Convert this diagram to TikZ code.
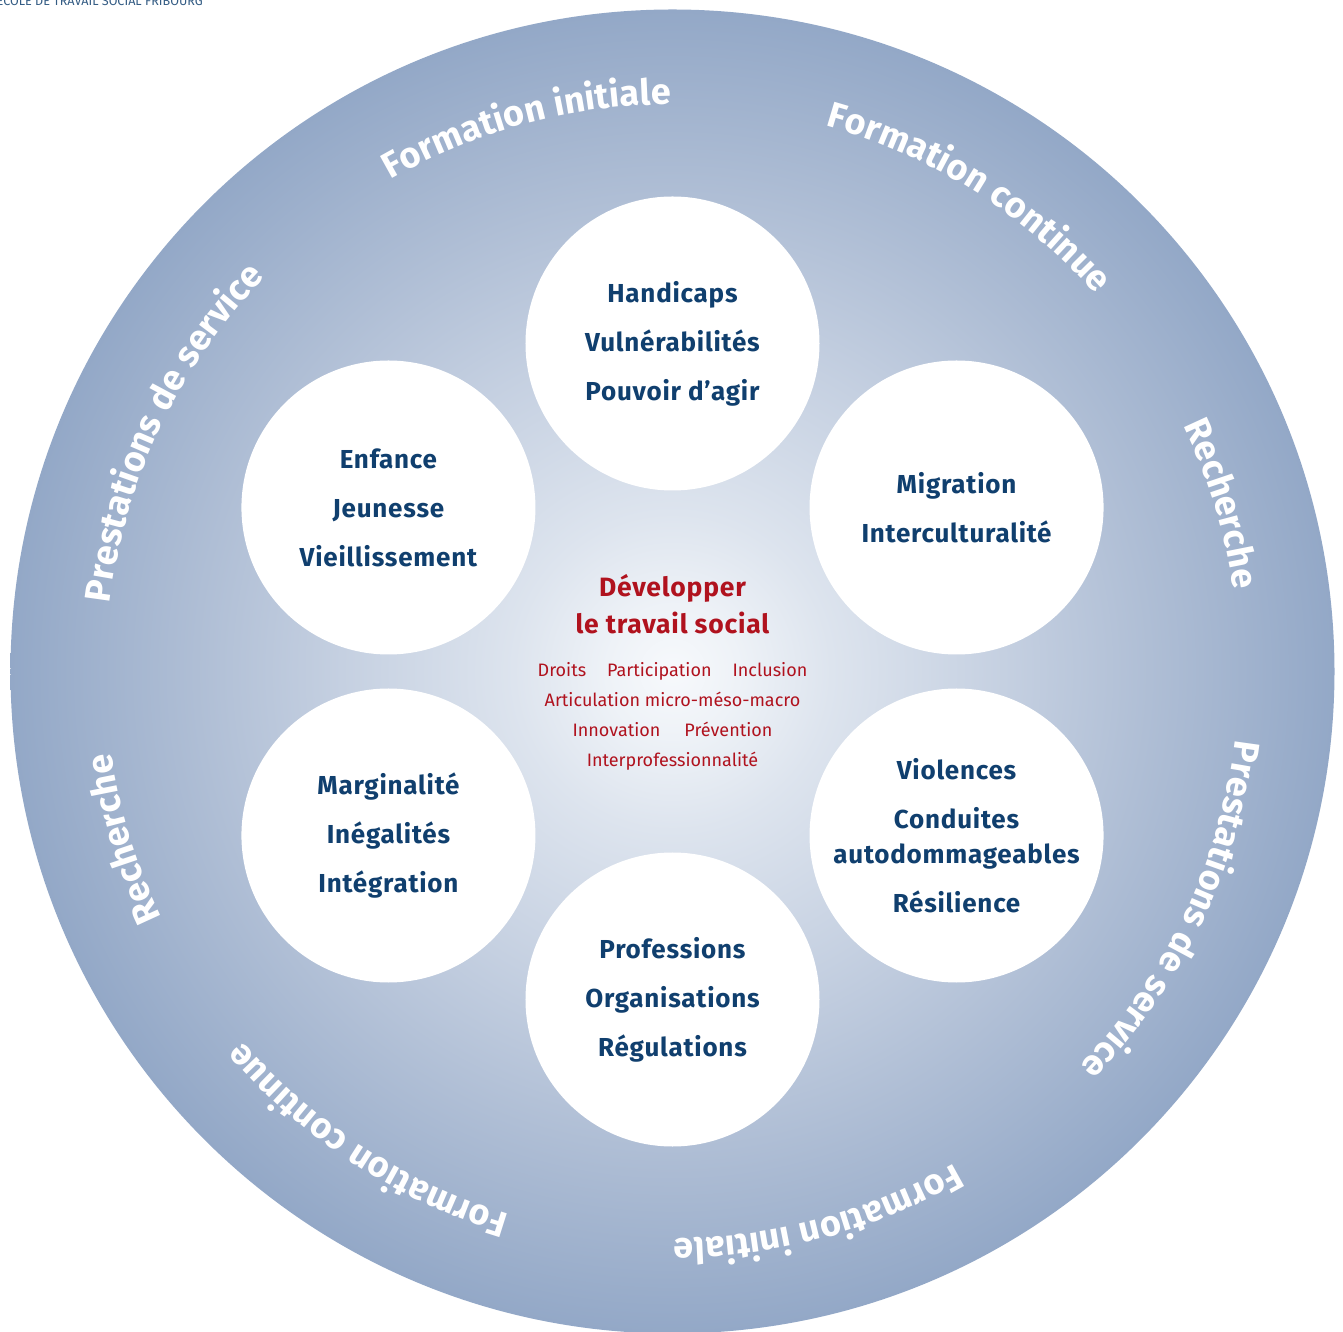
\documentclass[tikz,border=0pt]{standalone}
\usepackage{fontspec}
\setmainfont{Fira Sans}
\usetikzlibrary{decorations.text}
\definecolor{navy}{HTML}{103F6E}
\definecolor{wine}{HTML}{B0121E}
\definecolor{rc0}{HTML}{F7F9FC}
\definecolor{rc1}{HTML}{EEF2F7}
\definecolor{rc2}{HTML}{DDE4EE}
\definecolor{rc3}{HTML}{C5D0E1}
\definecolor{rc4}{HTML}{AFBED5}
\definecolor{rc5}{HTML}{93A8C7}
\pgfdeclareradialshading{ringshade}{\pgfpoint{0bp}{0bp}}{color(0bp)=(rc0); color(2.5bp)=(rc1); color(6bp)=(rc2); color(12.5bp)=(rc3); color(18bp)=(rc4); color(25bp)=(rc5); color(50bp)=(rc5)}
\newcommand\ringfont{\bfseries\fontsize{36}{42}\selectfont\addfontfeatures{LetterSpace=2}}
\newcommand\ringlabel[2]{\path[decorate, decoration={text along path, text={|\ringfont|#2}, text align=center, text color=white}] (#1+70:567) arc[start angle=#1+70, end angle=#1-70, radius=567];}
\tikzset{
  topic/.style={circle, fill=white, minimum size=294pt, inner sep=0pt, text=navy,
    font=\bfseries\fontsize{26}{35}\selectfont\addfontfeatures{LetterSpace=3}, align=center},
}
\begin{document}
\begin{tikzpicture}[x=1pt,y=1pt]
\useasboundingbox (-672.5,-660.5) rectangle (670.5,671.5);
\shade[shading=ringshade] (0,0) circle (662);
\node[anchor=base west, inner sep=0pt, text=navy!85, font=\fontsize{12.6}{15}\selectfont] (hdr) at (-676,666) {ÉCOLE DE TRAVAIL SOCIAL FRIBOURG};
% ring labels
\ringlabel{105}{Formation initiale}
\ringlabel{58}{Formation continue}
\ringlabel{17}{Recherche}
\ringlabel{-25.5}{Prestations de service}
\ringlabel{285}{Formation initiale}
\ringlabel{237}{Formation continue}
\ringlabel{197}{Recherche}
\ringlabel{154.5}{Prestations de service}
% topic circles
\node[topic] (t1) at (90:328) {Handicaps\\[14pt]Vulnérabilités\\[14pt]Pouvoir d’agir};
\node[topic] (t2) at (30:328) {Migration\\[14pt]Interculturalité};
\node[topic] (t3) at (-30:328) {Violences\\[14pt]Conduites\\autodommageables\\[14pt]Résilience};
\node[topic] (t4) at (-90:328) {Professions\\[14pt]Organisations\\[14pt]Régulations};
\node[topic] (t5) at (-150:328) {Marginalité\\[14pt]Inégalités\\[14pt]Intégration};
\node[topic] (t6) at (150:328) {Enfance\\[14pt]Jeunesse\\[14pt]Vieillissement};
% centre
\node[text=wine, align=center, font=\bfseries\fontsize{26.5}{37}\selectfont\addfontfeatures{LetterSpace=3}] (title) at (0,67) {Développer\\le travail social};
\node[text=wine, align=center, font=\fontsize{18}{30}\selectfont] (values) at (0,-44.5) {Droits\hspace{21pt}Participation\hspace{21pt}Inclusion\\Articulation micro-méso-macro\\Innovation\hspace{24pt}Prévention\\Interprofessionnalité};
\end{tikzpicture}
\end{document}
